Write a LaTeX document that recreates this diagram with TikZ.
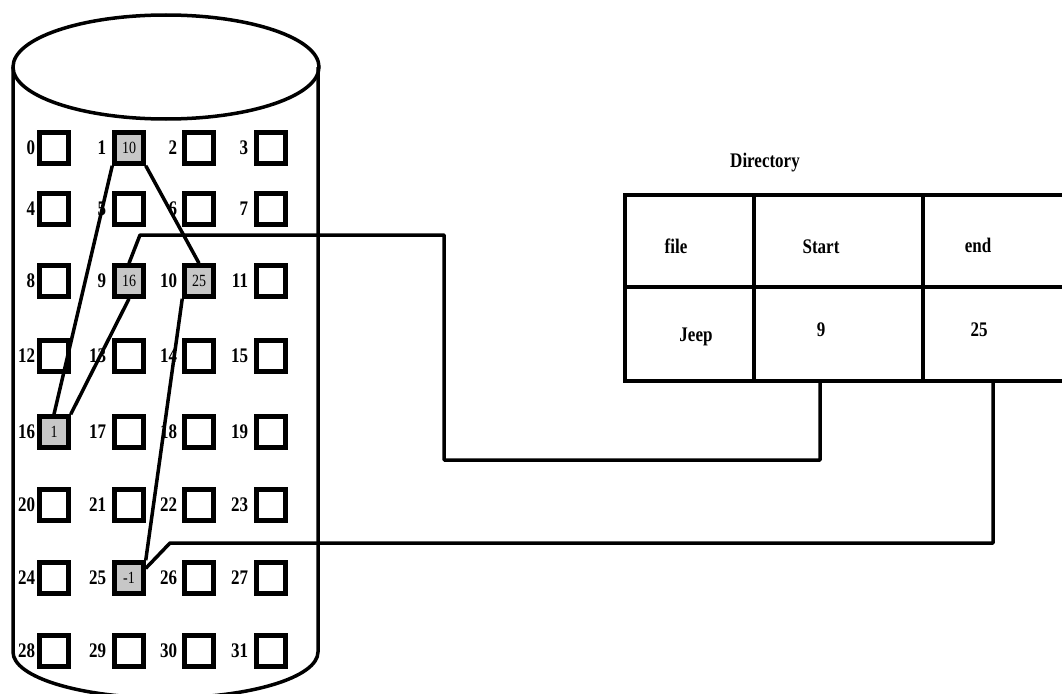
\documentclass[tikz,border=0pt]{standalone}
\usepackage{fontspec}
\setmainfont{Liberation Serif}
\usepackage{tikz}
\usetikzlibrary{calc}
\newcommand{\tall}[1]{\scalebox{1}[1.22]{#1}}
\tikzset{
    blk/.style={
        rectangle, draw=black, line width=4.5pt, fill=white,
        minimum width=29pt, minimum height=31pt, inner sep=0pt
    },
    blk_used/.style={
        blk, fill=black!22, font=\fontsize{14}{14}\selectfont
    },
    blk_label/.style={
        font=\fontsize{17}{17}\selectfont\bfseries, inner sep=0pt
    },
    link/.style={
        line width=3.5pt, draw=black, line join=round
    },
    disk/.style={
        line width=3.5pt, draw=black
    },
    dir_line/.style={
        line width=4pt, draw=black
    },
    dir_text/.style={
        font=\fontsize{17}{17}\selectfont\bfseries, inner sep=0pt
    }
}

\begin{document}
\begin{tikzpicture}[x=1pt, y=-1pt]
    \useasboundingbox (0,0) rectangle (1062,693);

    % Disco
    \draw[disk] (166,67) ellipse [x radius=153pt, y radius=52pt];
    \draw[disk] (13,67) -- (13,652) arc[start angle=180, end angle=360, x radius=152.5pt, y radius=46pt] -- (318,67);

    % Bloques del disco
    \foreach \row/\ypos in {0/148, 1/209, 2/281, 3/356, 4/432, 5/505, 6/578, 7/651} {
        \foreach \col/\xpos/\gap in {0/54/2, 1/129/6, 2/199/5, 3/271/6} {
            \pgfmathtruncatemacro{\n}{4*\row+\col}
            \node[blk, label={[blk_label, label distance=\gap pt]left:\tall{\n}}] (b\n) at (\xpos,\ypos) {};
        }
    }

    % Bloques ocupados por el archivo
    \node[blk_used] (u1) at (b1) {\tall{10}};
    \node[blk_used] (u9) at (b9) {\tall{16}};
    \node[blk_used] (u10) at (b10) {\tall{25}};
    \node[blk_used] (u16) at (b16) {\tall{1}};
    \node[blk_used] (u25) at (b25) {\tall{-1}};

    % Enlaces entre bloques
    \draw[link] (u9.south) -- (u16.north east);
    \draw[link] (u16.north) -- (u1.south west);
    \draw[link] (u1.south east) -- (u10.north);
    \draw[link] (u10.south west) -- (u25.north east);

    % Directorio
    \node[dir_text] (dir_title) at (765,163) {\tall{Directory}};
    \draw[dir_line] (1075,195) -- (625,195) -- (625,381) -- (1075,381);
    \draw[dir_line] (625,287) -- (1075,287);
    \draw[dir_line] (754,195) -- (754,381);
    \draw[dir_line] (923,195) -- (923,381);

    \node[dir_text] (t_file) at (676,246) {\tall{file}};
    \node[dir_text] (t_start) at (821,247) {\tall{Start}};
    \node[dir_text] (t_end) at (978,245) {\tall{end}};
    \node[dir_text] (t_jeep) at (696,337) {\tall{Jeep}};
    \node[dir_text] (t_first) at (821,330) {\tall{9}};
    \node[dir_text] (t_last) at (979,330) {\tall{25}};

    % Punteros del directorio
    \coordinate (start_ptr) at (820,381);
    \coordinate (start_turn) at (444,460);
    \coordinate (start_top) at (140,235);
    \draw[link] (start_ptr) |- (start_turn) |- (start_top) -- (u9.north);

    \coordinate (end_ptr) at (993,381);
    \coordinate (end_turn) at (170,543);
    \draw[link] (end_ptr) |- (end_turn) -- (u25.30);
\end{tikzpicture}
\end{document}
